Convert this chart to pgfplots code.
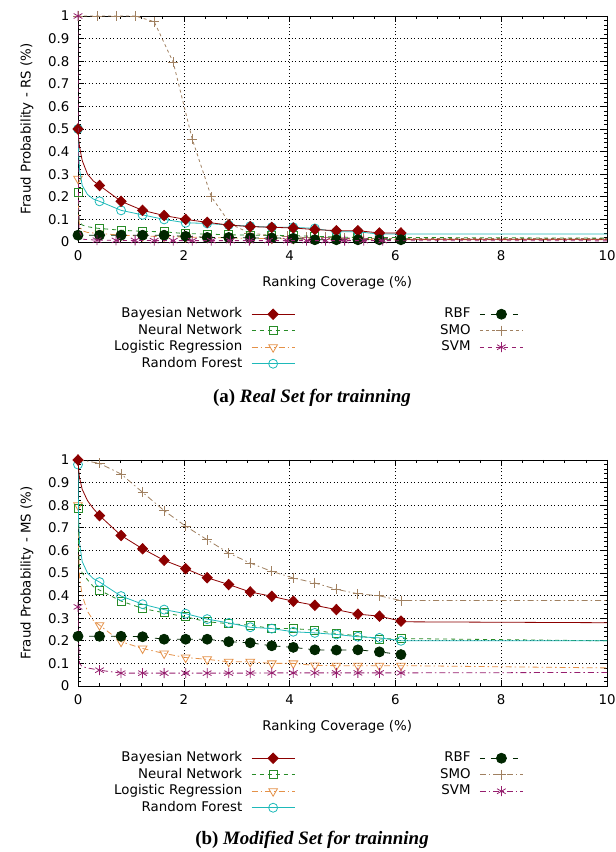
\documentclass[border=0pt]{standalone}
\usepackage{fontspec}
\setmainfont{DejaVu Sans}
\newfontfamily\capfont{Liberation Serif}
\usepackage{pgfplots}
\pgfplotsset{compat=1.18}
\definecolor{bnc}{RGB}{140,0,0}
\definecolor{nnc}{RGB}{40,140,40}
\definecolor{lrc}{RGB}{228,145,72}
\definecolor{rfc}{RGB}{30,185,185}
\definecolor{rbfc}{RGB}{0,38,0}
\definecolor{smoc}{RGB}{160,128,96}
\definecolor{svmc}{RGB}{150,30,110}
\newcommand\gfont{\fontsize{13.4}{16}\selectfont}
\pgfplotsset{
  bn/.style={color=bnc, solid, line width=0.8bp, mark=diamond*, mark size=5.2bp, mark options={solid, fill=bnc, xscale=1.3}},
  nn/.style={color=nnc, dash pattern=on 4bp off 4bp, line width=0.8bp, mark=square, mark size=4bp, mark options={solid}},
  lr/.style={color=lrc, dash pattern=on 6bp off 3bp on 1.5bp off 3bp, line width=0.8bp, mark=triangle, mark size=5bp, mark options={solid, rotate=180}},
  rf/.style={color=rfc, solid, line width=0.8bp, mark=o, mark size=4.5bp, mark options={solid}},
  rbf/.style={color=rbfc, dash pattern=on 5bp off 6bp, line width=0.8bp, mark=*, mark size=5bp, mark options={solid, fill=rbfc}},
  smoA/.style={color=smoc, dash pattern=on 3bp off 3bp, line width=0.8bp, mark=+, mark size=5bp, mark options={solid}},
  svmA/.style={color=svmc, dash pattern=on 4bp off 4bp, line width=0.8bp, mark=asterisk, mark size=5bp, mark options={solid}},
  smoB/.style={color=smoc, dash pattern=on 6bp off 3bp on 1.5bp off 3bp, line width=0.8bp, mark=+, mark size=5bp, mark options={solid}},
  svmB/.style={color=svmc, dash pattern=on 6bp off 3bp on 1.5bp off 3bp, line width=0.8bp, mark=asterisk, mark size=5bp, mark options={solid}},
  std/.style={mark indices={1,7,8,9,10,11,12,13,14,15,16,17,18,19,20,21}},
  myaxis/.style={
    scale only axis, width=529bp, height=226bp,
    xmin=0, xmax=10, ymin=0, ymax=1,
    xtick={0,2,4,6,8,10}, xticklabels={0,2,4,6,8,10},
    ytick={0,0.1,0.2,0.3,0.4,0.5,0.6,0.7,0.8,0.9,1},
    yticklabels={0,0.1,0.2,0.3,0.4,0.5,0.6,0.7,0.8,0.9,1},
    minor x tick num=4, minor y tick num=4,
    xtick pos=both, ytick pos=both, tick align=inside,
    major tick length=6bp, minor tick length=3bp,
    tick style={black, line width=0.6bp},
    axis line style={black, line width=0.9bp},
    grid=major, major grid style={black, line width=0.6bp, dash pattern=on 1bp off 2.5bp},
    /pgf/number format/assume math mode=true,
    tick label style={font=\gfont},
    yticklabel style={xshift=-5bp},
    xticklabel style={yshift=-5bp},
    xlabel={Ranking Coverage (\%)},
    every axis x label/.style={at={(rel axis cs:0.49,-0.181)}, anchor=center, font=\gfont},
    every axis y label/.style={at={(rel axis cs:-0.0964,0.5)}, rotate=90, anchor=center, font=\gfont},
    clip mode=individual,
    legend columns=2, legend plot pos=right, legend cell align=right,
    legend image code/.code={\draw[mark repeat=2,mark phase=2,#1] plot coordinates {(0bp,0bp) (21.5bp,0bp) (43bp,0bp)};},
    legend style={at={(rel axis cs:0.068,-0.29)}, anchor=north west, draw=none, fill=none, inner sep=0pt,
      font=\gfont, row sep=3.5bp, nodes={inner sep=0pt, text height=10bp, text depth=3bp},
      /tikz/every even column/.append style={column sep=145bp},
      /tikz/every odd column/.append style={column sep=9bp}},
  }
}
\begin{document}
\begin{tikzpicture}
\useasboundingbox (0,0) rectangle (616bp,852bp);
% ---------------- (a) Real set ----------------
\begin{axis}[myaxis, at={(78bp,610bp)}, anchor=south west, ylabel={Fraud Probability - RS (\%)}]
\addlegendimage{bn}\addlegendentry{Bayesian Network}
\addlegendimage{rbf}\addlegendentry{RBF}
\addlegendimage{nn}\addlegendentry{Neural Network}
\addlegendimage{smoA}\addlegendentry{SMO}
\addlegendimage{lr}\addlegendentry{Logistic Regression}
\addlegendimage{svmA}\addlegendentry{SVM}
\addlegendimage{rf}\addlegendentry{Random Forest}
% SMO
\addplot[smoA, forget plot, mark indices={1,2,3,4,5,6,7,8,9,10,11,12,13,14,15,16,17,18}] table {
0 1
0.36 1
0.72 1
1.08 1
1.44 0.975
1.80 0.795
2.16 0.455
2.52 0.20
2.88 0.08
3.24 0.04
3.60 0.03
3.96 0.025
4.32 0.02
4.68 0.02
5.04 0.018
5.40 0.016
5.76 0.015
6.12 0.015
10 0.015
};
% Logistic Regression
\addplot[lr, forget plot, std] table {
0 0.28
0.01 0.12
0.03 0.07
0.08 0.05
0.18 0.042
0.29 0.04
0.407 0.038
0.814 0.03
1.221 0.026
1.628 0.024
2.035 0.022
2.442 0.02
2.849 0.018
3.256 0.016
3.663 0.015
4.070 0.014
4.477 0.013
4.884 0.012
5.291 0.012
5.698 0.011
6.105 0.01
10 0.01
};
% Neural Network
\addplot[nn, forget plot, std] table {
0 0.22
0.01 0.12
0.03 0.09
0.08 0.075
0.18 0.068
0.29 0.063
0.407 0.06
0.814 0.052
1.221 0.047
1.628 0.045
2.035 0.037
2.442 0.035
2.849 0.032
3.256 0.03
3.663 0.03
4.070 0.028
4.477 0.025
4.884 0.022
5.291 0.02
5.698 0.02
6.105 0.02
10 0.017
};
% Random Forest
\addplot[rf, forget plot, std] table {
0 0.50
0.01 0.40
0.03 0.32
0.08 0.25
0.18 0.21
0.29 0.19
0.407 0.18
0.814 0.14
1.221 0.12
1.628 0.10
2.035 0.085
2.442 0.082
2.849 0.075
3.256 0.07
3.663 0.065
4.070 0.065
4.477 0.06
4.884 0.045
5.291 0.045
5.698 0.035
6.105 0.035
10 0.035
};
% Bayesian Network
\addplot[bn, forget plot, std] table {
0 0.50
0.01 0.46
0.03 0.42
0.08 0.36
0.18 0.30
0.29 0.27
0.407 0.25
0.814 0.18
1.221 0.14
1.628 0.117
2.035 0.10
2.442 0.087
2.849 0.075
3.256 0.068
3.663 0.065
4.070 0.062
4.477 0.055
4.884 0.05
5.291 0.05
5.698 0.04
6.105 0.04
6.2 0.012
10 0.012
};
% RBF
\addplot[rbf, forget plot, std] table {
0 0.03
0.01 0.03
0.03 0.03
0.08 0.03
0.18 0.03
0.29 0.03
0.407 0.03
0.814 0.03
1.221 0.03
1.628 0.03
2.035 0.025
2.442 0.02
2.849 0.02
3.256 0.018
3.663 0.018
4.070 0.016
4.477 0.01
4.884 0.01
5.291 0.01
5.698 0.01
6.105 0.01
};
% SVM
\addplot[svmA, forget plot, mark indices={1,5,6,7,8,9,10,11,12,13,14,15,16,17,18,19,20}] table {
0 1
0.005 0.3
0.02 0.05
0.1 0.012
0.36 0.008
0.72 0.007
1.08 0.007
1.44 0.006
1.80 0.006
2.16 0.006
2.52 0.006
2.88 0.006
3.24 0.006
3.60 0.006
3.96 0.006
4.32 0.006
4.68 0.006
5.04 0.006
5.40 0.006
5.76 0.006
10 0.005
};
\end{axis}
% ---------------- (b) Modified set ----------------
\begin{axis}[myaxis, at={(78bp,166bp)}, anchor=south west, ylabel={Fraud Probability - MS (\%)}]
\addlegendimage{bn}\addlegendentry{Bayesian Network}
\addlegendimage{rbf}\addlegendentry{RBF}
\addlegendimage{nn}\addlegendentry{Neural Network}
\addlegendimage{smoB}\addlegendentry{SMO}
\addlegendimage{lr}\addlegendentry{Logistic Regression}
\addlegendimage{svmB}\addlegendentry{SVM}
\addlegendimage{rf}\addlegendentry{Random Forest}
% SMO
\addplot[smoB, forget plot, std] table {
0 1
0.01 1
0.03 1
0.08 0.998
0.18 0.995
0.29 0.99
0.407 0.985
0.814 0.938
1.221 0.857
1.628 0.776
2.035 0.707
2.442 0.647
2.849 0.588
3.256 0.544
3.663 0.507
4.070 0.478
4.477 0.456
4.884 0.428
5.291 0.408
5.698 0.399
6.105 0.378
10 0.378
};
% Logistic Regression
\addplot[lr, forget plot, std] table {
0 0.80
0.01 0.60
0.03 0.48
0.08 0.40
0.18 0.33
0.29 0.29
0.407 0.269
0.814 0.196
1.221 0.166
1.628 0.144
2.035 0.126
2.442 0.118
2.849 0.107
3.256 0.107
3.663 0.10
4.070 0.10
4.477 0.091
4.884 0.09
5.291 0.09
5.698 0.09
6.105 0.09
10 0.08
};
% SVM
\addplot[svmB, forget plot, std] table {
0 0.35
0.01 0.20
0.03 0.10
0.08 0.085
0.18 0.08
0.29 0.075
0.407 0.07
0.814 0.057
1.221 0.057
1.628 0.057
2.035 0.057
2.442 0.057
2.849 0.057
3.256 0.057
3.663 0.058
4.070 0.058
4.477 0.058
4.884 0.058
5.291 0.058
5.698 0.058
6.105 0.058
10 0.06
};
% RBF
\addplot[rbf, forget plot, std] table {
0 0.22
0.01 0.22
0.03 0.22
0.08 0.22
0.18 0.22
0.29 0.22
0.407 0.22
0.814 0.22
1.221 0.218
1.628 0.207
2.035 0.207
2.442 0.207
2.849 0.196
3.256 0.191
3.663 0.178
4.070 0.171
4.477 0.16
4.884 0.159
5.291 0.16
5.698 0.151
6.105 0.139
};
% Neural Network
\addplot[nn, forget plot, std] table {
0 0.787
0.01 0.60
0.03 0.53
0.08 0.50
0.18 0.47
0.29 0.44
0.407 0.424
0.814 0.376
1.221 0.343
1.628 0.324
2.035 0.306
2.442 0.284
2.849 0.276
3.256 0.269
3.663 0.254
4.070 0.254
4.477 0.247
4.884 0.232
5.291 0.222
5.698 0.208
6.105 0.21
10 0.20
};
% Random Forest
\addplot[rf, forget plot, std] table {
0 0.98
0.01 0.75
0.03 0.63
0.08 0.55
0.18 0.50
0.29 0.475
0.407 0.46
0.814 0.398
1.221 0.362
1.628 0.338
2.035 0.32
2.442 0.296
2.849 0.279
3.256 0.26
3.663 0.254
4.070 0.24
4.477 0.235
4.884 0.228
5.291 0.218
5.698 0.213
6.105 0.20
10 0.20
};
% Bayesian Network
\addplot[bn, forget plot, std] table {
0 1.0
0.01 0.96
0.03 0.92
0.08 0.87
0.18 0.82
0.29 0.785
0.407 0.754
0.814 0.666
1.221 0.607
1.628 0.556
2.035 0.519
2.442 0.479
2.849 0.449
3.256 0.416
3.663 0.397
4.070 0.375
4.477 0.357
4.884 0.338
5.291 0.318
5.698 0.309
6.105 0.287
6.2 0.284
10 0.28
};
\end{axis}
\node[anchor=base, font=\capfont\fontsize{19}{22}\selectfont\bfseries] at (312bp,449bp) {(a) \textit{Real Set for trainning}};
\node[anchor=base, font=\capfont\fontsize{19}{22}\selectfont\bfseries] at (312bp,8bp) {(b) \textit{Modified Set for trainning}};
\end{tikzpicture}
\end{document}
